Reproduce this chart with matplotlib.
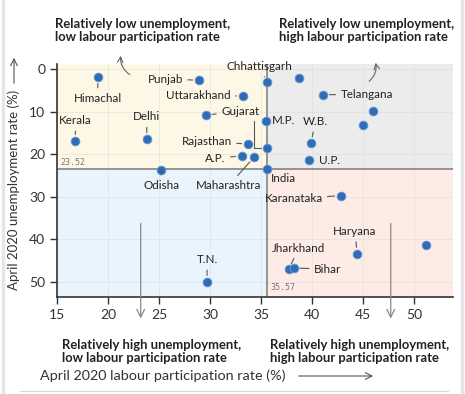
import matplotlib.pyplot as plt
from matplotlib.patches import Rectangle
from matplotlib.lines import Line2D

plt.rcParams['font.family'] = ['Lato', 'DejaVu Sans']

# April 2020 data
states = ["Himachal", "Punjab", "Kerala", "Delhi", "Uttarakhand", "Gujarat", "Rajasthan",
          "A.P.", "Maharashtra", "Chhattisgarh", "", "Telangana", "", "", "M.P.", "W.B.",
          "", "U.P.", "India", "Odisha", "Karanataka", "Haryana", "", "Jharkhand", "Bihar", "T.N."]
participation = [19.0, 28.9, 16.8, 23.8, 33.2, 29.6, 33.7, 33.1, 34.3, 35.6, 38.7, 41.1, 46.0, 45.0,
                 35.5, 39.9, 35.6, 39.7, 35.57, 25.2, 42.8, 44.4, 51.2, 37.7, 38.2, 29.7]
unemployment = [1.9, 2.6, 16.8, 16.4, 6.3, 10.8, 17.6, 20.4, 20.7, 3.1, 2.0, 6.0, 9.8, 13.1,
                12.1, 17.3, 18.5, 21.4, 23.52, 23.7, 29.7, 43.3, 41.2, 47.0, 46.7, 49.9]
x_ticks = [15, 20, 25, 30, 35, 40, 45, 50]
y_ticks = [0, 10, 20, 30, 40, 50]
india_lpr, india_ur = 35.57, 23.52

# label placement: offset (px) from dot, alignment, leader line?
label_pos = {
    "Himachal": ((0, -21), "center", True), "Punjab": ((-16, 1), "right", True),
    "Kerala": ((0, 20), "center", True), "Delhi": ((0, 22), "center", True),
    "Uttarakhand": ((-12, 0), "right", True), "Gujarat": ((15, 4), "left", True),
    "Rajasthan": ((-16, 3), "right", True), "A.P.": ((-16, -2), "right", True),
    "Maharashtra": ((-25, -28), "center", True), "Chhattisgarh": ((-8, 16), "center", True),
    "Telangana": ((17, 0), "left", True), "M.P.": ((6, 0), "left", False),
    "W.B.": ((4, 21), "center", True), "U.P.": ((10, 0), "left", False),
    "India": ((4, -9), "left", False), "Odisha": ((0, -15), "center", True),
    "Karanataka": ((-18, -3), "right", True), "Haryana": ((-2, 22), "center", True),
    "Jharkhand": ((10, 21), "center", True), "Bihar": ((20, -1), "left", True),
    "T.N.": ((0, 22), "center", True),
}

W, H = 465, 394
fig = plt.figure(figsize=(W / 100, H / 100), dpi=100)
ax = fig.add_axes([57 / W, 1 - 297 / H, (453 - 57) / W, (297 - 64) / H])
xmin, xmax, ymin, ymax = 15, 53.8, -1.2, 53.5
ax.set_xlim(xmin, xmax)
ax.set_ylim(ymax, ymin)

# quadrants
quads = [(xmin, ymin, india_lpr, india_ur, "#fdf8e6"), (india_lpr, ymin, xmax, india_ur, "#ececec"),
         (xmin, india_ur, india_lpr, ymax, "#eaf4fc"), (india_lpr, india_ur, xmax, ymax, "#fcece5")]
for x0, y0, x1, y1, c in quads:
    ax.add_patch(Rectangle((x0, y0), x1 - x0, y1 - y0, color=c, zorder=0, lw=0))
for t in x_ticks:
    ax.axvline(t, color="#dcdcdc", lw=0.6, alpha=0.6, zorder=1)
for t in y_ticks:
    ax.axhline(t, color="#dcdcdc", lw=0.6, alpha=0.6, zorder=1)
ax.axhline(india_ur, color="#8c8c8c", lw=1.3, zorder=2)
ax.axvline(india_lpr, color="#8c8c8c", lw=1.3, zorder=2)
ax.text(xmin + 0.3, india_ur - 0.6, f"{india_ur:.2f}", fontsize=6, color="#777777",
        family="DejaVu Sans Mono", va="bottom", ha="left")
ax.text(india_lpr + 0.3, ymax - 1.2, f"{india_lpr:.2f}", fontsize=6, color="#777777",
        family="DejaVu Sans Mono", va="bottom", ha="left")

# down arrows inside lower quadrants
for xa in [23.2, 47.7]:
    ax.annotate("", xy=(xa, 59.2), xytext=(xa, 35.6), xycoords="data", annotation_clip=False,
                arrowprops=dict(arrowstyle="->", color="#8a8a8a", lw=0.9, mutation_scale=14))

ax.scatter(participation, unemployment, s=40, color="#2f6cb6", edgecolor="#6d9bd4",
           linewidth=0.6, zorder=5)

for name, x, y in zip(states, participation, unemployment):
    if name not in label_pos:
        continue
    (dx, dy), ha, leader = label_pos[name]
    ap = dict(arrowstyle="-", color="#555555", lw=0.8, shrinkA=1.5, shrinkB=4.5) if leader else None
    ax.annotate(name, (x, y), xytext=(dx, dy), textcoords="offset pixels", ha=ha, va="center",
                fontsize=8.4, color="#222222", arrowprops=ap, zorder=6)

# extra elbow leader from the Gujarat label
ax.annotate("", (participation[16], unemployment[16]), xytext=(-13, 27), textcoords="offset pixels",
            arrowprops=dict(arrowstyle="-", color="#555555", lw=0.8, shrinkA=0, shrinkB=4.5,
                            connectionstyle="angle,angleA=90,angleB=0,rad=0"))

ax.set_xticks(x_ticks)
ax.set_yticks(y_ticks)
ax.tick_params(labelsize=10, colors="#333333", length=5, width=1)
for s in ["top", "right"]:
    ax.spines[s].set_visible(False)
for s in ["left", "bottom"]:
    ax.spines[s].set_color("#333333")
    ax.spines[s].set_linewidth(1.2)


def fp(px, py):
    return (px / W, 1 - py / H)


bold = dict(fontsize=9.4, fontweight="bold", color="#222222", va="top", ha="left", linespacing=1.12)
fig.text(*fp(55, 18), "Relatively low unemployment,\nlow labour participation rate", **bold)
fig.text(*fp(279, 18), "Relatively low unemployment,\nhigh labour participation rate", **bold)
fig.text(*fp(62, 339), "Relatively high unemployment,\nlow labour participation rate", **bold)
fig.text(*fp(270, 339), "Relatively high unemployment,\nhigh labour participation rate", **bold)

curved = dict(arrowstyle="->", color="#666666", lw=0.8, mutation_scale=10)
fig.add_artist(plt.Annotation("", xy=fp(121, 53), xytext=fp(132, 76), xycoords="figure fraction",
                              arrowprops=dict(connectionstyle="arc3,rad=-0.35", **curved)))
fig.add_artist(plt.Annotation("", xy=fp(375, 60), xytext=fp(367, 83), xycoords="figure fraction",
                              arrowprops=dict(connectionstyle="arc3,rad=0.35", **curved)))

fig.text(*fp(40, 376), "April 2020 labour participation rate (%)", fontsize=10.4, color="#333333",
         va="center", ha="left")
fig.add_artist(plt.Annotation("", xy=fp(376, 376), xytext=fp(296, 376), xycoords="figure fraction",
                              arrowprops=dict(arrowstyle="->", color="#555555", lw=0.8, mutation_scale=12)))
fig.text(*fp(14, 190), "April 2020 unemployment rate (%)", fontsize=9.5, color="#333333",
         va="center", ha="center", rotation=90)
fig.add_artist(plt.Annotation("", xy=fp(14, 55), xytext=fp(14, 86), xycoords="figure fraction",
                              arrowprops=dict(arrowstyle="->", color="#555555", lw=0.8, mutation_scale=12)))

# faint frame
fig.add_artist(Line2D([3 / W, 3 / W], [0, 1], color="#e6e6e6", lw=2.5))
fig.add_artist(Line2D([462 / W, 462 / W], [0, 1], color="#e6e6e6", lw=2.5))
fig.add_artist(Line2D([20 / W, 448 / W], [1 - 391 / H] * 2, color="#d8d8d8", lw=0.8))

fig.savefig("out.png", dpi=100)
